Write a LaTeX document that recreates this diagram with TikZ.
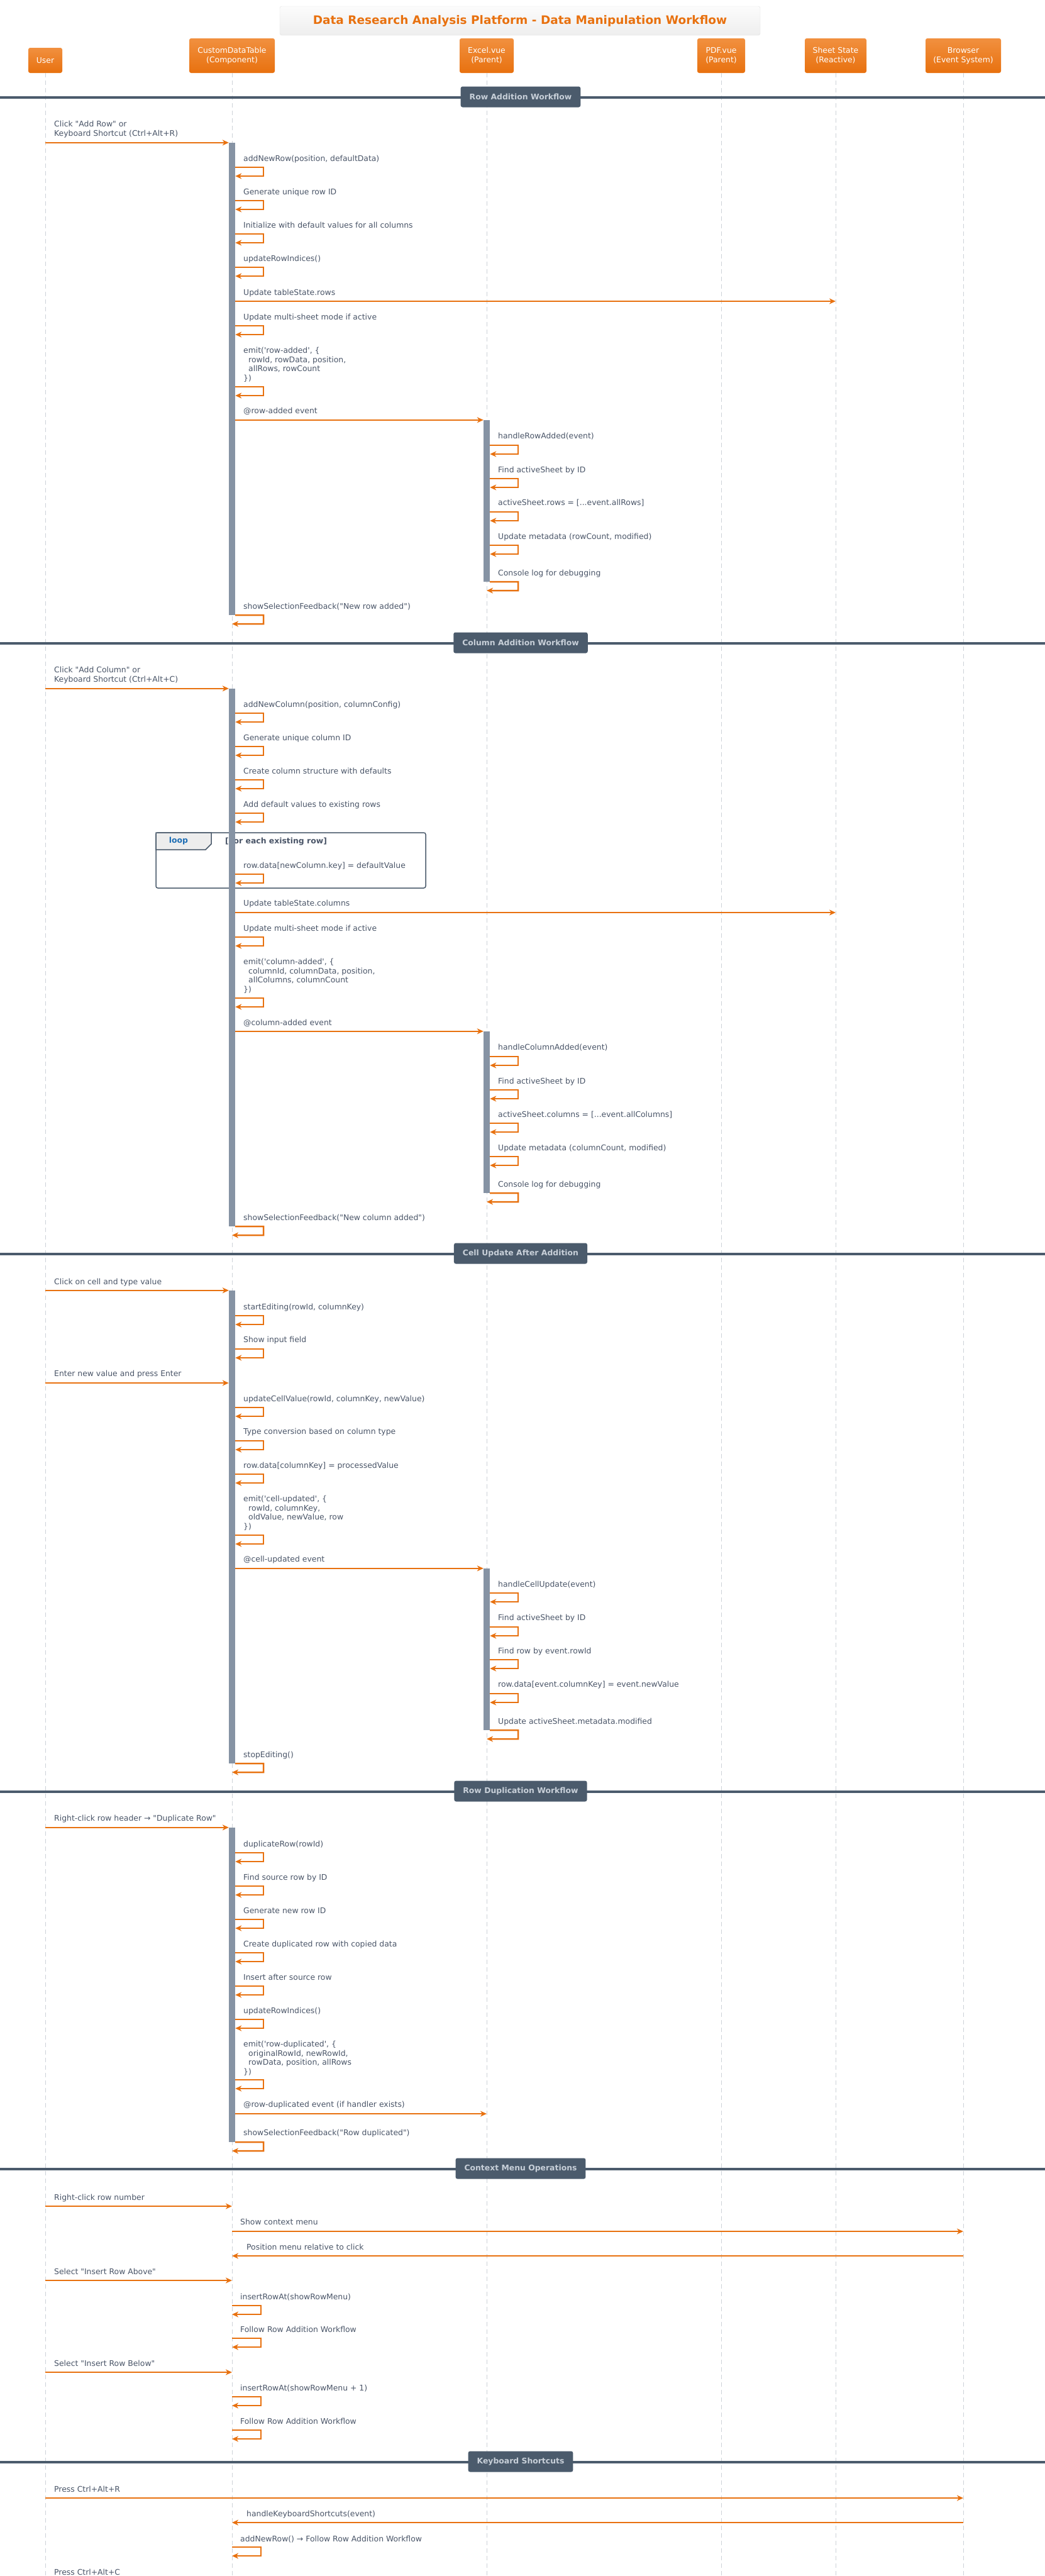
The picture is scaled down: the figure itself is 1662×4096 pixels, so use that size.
\documentclass[tikz,border=0pt]{standalone}
\usepackage{fontspec}
\newfontfamily\dejavu{DejaVu Sans}
\usepackage{tikz}
\usetikzlibrary{arrows.meta}

\definecolor{accent}{HTML}{E8710F}
\definecolor{accenttop}{HTML}{F1903F}
\definecolor{ink}{HTML}{4A5568}
\definecolor{slate}{HTML}{4B5B6C}
\definecolor{pale}{HTML}{C8D0D9}
\definecolor{barfill}{HTML}{8693A4}
\definecolor{life}{HTML}{CDD2D8}
\definecolor{loopblue}{HTML}{1C6DB4}
\definecolor{tabgray}{HTML}{EDEDED}
\definecolor{titletop}{HTML}{FCFCFC}
\definecolor{titlebottom}{HTML}{EEEEEE}
\definecolor{titleline}{HTML}{E2E2E2}

\begin{document}
\begin{tikzpicture}[x=1pt,y=-1pt,>={Stealth[length=10pt,width=9pt,inset=3pt]},
    every node/.style={font=\dejavu\fontsize{12.4}{14.6}\selectfont},
    heading/.style={rounded corners=3pt,draw=titleline,top color=titletop,bottom color=titlebottom,
      minimum width=764pt,minimum height=46pt,text=accent,font=\dejavu\bfseries\fontsize{18.5}{22}\selectfont},
    actor/.style={rounded corners=3pt,top color=accenttop,bottom color=accent,text=white,align=center,
      minimum height=55pt,inner sep=0pt,font=\dejavu\fontsize{12.4}{15}\selectfont},
    lifeline/.style={draw=life,line width=1pt,dash pattern=on 7pt off 5pt},
    divider/.style={draw=slate,line width=4pt},
    divlabel/.style={fill=slate,text=pale,rounded corners=3pt,minimum height=33pt,inner xsep=14pt,
      font=\dejavu\bfseries\fontsize{12.4}{14.6}\selectfont},
    activation/.style={fill=barfill,minimum width=10pt,inner sep=0pt},
    msg/.style={anchor=base west,inner sep=0pt,text=ink,align=left},
    call/.style={->,draw=accent,line width=2.5pt},
    loopframe/.style={draw=slate,line width=1.5pt,rounded corners=3pt},
    looptab/.style={draw=slate,line width=1.5pt,fill=tabgray}]
  \useasboundingbox (0,0) rectangle (1662,4096);
  \fill[white] (0,0) rectangle (1662,4096);

  % title and participants
  \node[heading] (title) at (827,33) {Data Research Analysis Platform - Data Manipulation Workflow};
  \node[actor,minimum width=54pt,minimum height=40pt] (U) at (72,96) {User};
  \node[actor,minimum width=136pt] (T) at (369,88.5) {CustomDataTable\\(Component)};
  \node[actor,minimum width=86pt]  (E) at (774,88.5) {Excel.vue\\(Parent)};
  \node[actor,minimum width=76pt]  (P) at (1147,88.5) {PDF.vue\\(Parent)};
  \node[actor,minimum width=98pt]  (S) at (1329,88.5) {Sheet State\\(Reactive)};
  \node[actor,minimum width=120pt] (B) at (1532,88.5) {Browser\\(Event System)};

  \draw[lifeline] (U.south) -- (U |- 0,4096);
  \draw[lifeline] (T.south) -- (T |- 0,4096);
  \draw[lifeline] (E.south) -- (E |- 0,4096);
  \draw[lifeline] (P.south) -- (P |- 0,4096);
  \draw[lifeline] (S.south) -- (S |- 0,4096);
  \draw[lifeline] (B.south) -- (B |- 0,4096);

  % section dividers
  \draw[divider] (0,155) -- (1662,155);
  \draw[divider] (0,1023) -- (1662,1023);
  \draw[divider] (0,1994) -- (1662,1994);
  \draw[divider] (0,2849) -- (1662,2849);
  \draw[divider] (0,3449) -- (1662,3449);
  \draw[divider] (0,3915) -- (1662,3915);
  \node[divlabel] (h1) at (828,154) {Row Addition Workflow};
  \node[divlabel] (h2) at (828,1022) {Column Addition Workflow};
  \node[divlabel] (h3) at (828,1993) {Cell Update After Addition};
  \node[divlabel] (h4) at (828,2848) {Row Duplication Workflow};
  \node[divlabel] (h5) at (828,3448) {Context Menu Operations};
  \node[divlabel] (h6) at (828,3914) {Keyboard Shortcuts};

  % loop frame
  \draw[loopframe] (248,1324) rectangle (677,1412);
  \draw[looptab] (248,1324) -- (336,1324) -- (336,1342) -- (327,1351) -- (248,1351) -- cycle;
  \node[text=loopblue,font=\dejavu\bfseries\fontsize{12.4}{14.6}\selectfont] (lp) at (284,1337) {loop};
  \node[text=ink,font=\dejavu\bfseries\fontsize{12.4}{14.6}\selectfont] (lpc) at (439,1338) {[For each existing row]};

  % activation bars
  \node[activation,minimum height=751pt] (T1) at (369,602.5) {};
  \node[activation,minimum height=257pt] (E1) at (774,796.5) {};
  \node[activation,minimum height=855pt] (T2) at (369,1522.5) {};
  \node[activation,minimum height=257pt] (E2) at (774,1768.5) {};
  \node[activation,minimum height=752pt] (T3) at (369,2428) {};
  \node[activation,minimum height=257pt] (E3) at (774,2622.5) {};
  \node[activation,minimum height=500pt] (T4) at (369,3156) {};

  % row addition
  \node[msg] (r1) at (86,216.5) {Click "Add Row" or\\Keyboard Shortcut (Ctrl+Alt+R)};
  \draw[call] (U |- T1.north) -- (T1.north west);
  \node[msg] (r2) at (387,256.5) {addNewRow(position, defaultData)};
  \draw[call] (T1.east |- 0,266) -| ++(45,14) -- (T1.east |- 0,280);
  \node[msg] (r3) at (387,309.5) {Generate unique row ID};
  \draw[call] (T1.east |- 0,319) -| ++(45,14) -- (T1.east |- 0,333);
  \node[msg] (r4) at (387,362.5) {Initialize with default values for all columns};
  \draw[call] (T1.east |- 0,372) -| ++(45,14) -- (T1.east |- 0,386);
  \node[msg] (r5) at (387,415.5) {updateRowIndices()};
  \draw[call] (T1.east |- 0,425) -| ++(45,14) -- (T1.east |- 0,439);
  \node[msg] (r6) at (387,469.5) {Update tableState.rows};
  \draw[call] (T1.east |- 0,479) -- (S |- 0,479);
  \node[msg] (r7) at (387,508.5) {Update multi-sheet mode if active};
  \draw[call] (T1.east |- 0,518) -| ++(45,14) -- (T1.east |- 0,532);
  \node[msg] (r8) at (387,605.5) {emit('row-added', \{\\\hspace*{8pt}rowId, rowData, position,\\\hspace*{8pt}allRows, rowCount\\\})};
  \draw[call] (T1.east |- 0,615) -| ++(45,14) -- (T1.east |- 0,629);
  \node[msg] (r9) at (387,657.5) {@row-added event};
  \draw[call] (T1.east |- E1.north) -- (E1.north west);
  \node[msg] (r10) at (792,697.5) {handleRowAdded(event)};
  \draw[call] (E1.east |- 0,708) -| ++(45,14) -- (E1.east |- 0,722);
  \node[msg] (r11) at (792,751.5) {Find activeSheet by ID};
  \draw[call] (E1.east |- 0,761) -| ++(45,14) -- (E1.east |- 0,775);
  \node[msg] (r12) at (792,803.5) {activeSheet.rows = [...event.allRows]};
  \draw[call] (E1.east |- 0,814) -| ++(45,14) -- (E1.east |- 0,828);
  \node[msg] (r13) at (792,857.5) {Update metadata (rowCount, modified)};
  \draw[call] (E1.east |- 0,867) -| ++(45,14) -- (E1.east |- 0,881);
  \node[msg] (r14) at (792,915.5) {Console log for debugging};
  \draw[call] (E1.south east) -| ++(45,14) -- (E |- 0,939);
  \node[msg] (r15) at (387,968.5) {showSelectionFeedback("New row added")};
  \draw[call] (T1.south east) -| ++(45,14) -- (T |- 0,992);

  % column addition
  \node[msg] (c1) at (86,1084.5) {Click "Add Column" or\\Keyboard Shortcut (Ctrl+Alt+C)};
  \draw[call] (U |- T2.north) -- (T2.north west);
  \node[msg] (c2) at (387,1124.5) {addNewColumn(position, columnConfig)};
  \draw[call] (T2.east |- 0,1134) -| ++(45,14) -- (T2.east |- 0,1148);
  \node[msg] (c3) at (387,1177.5) {Generate unique column ID};
  \draw[call] (T2.east |- 0,1187) -| ++(45,14) -- (T2.east |- 0,1201);
  \node[msg] (c4) at (387,1230.5) {Create column structure with defaults};
  \draw[call] (T2.east |- 0,1240) -| ++(45,14) -- (T2.east |- 0,1254);
  \node[msg] (c5) at (387,1283.5) {Add default values to existing rows};
  \draw[call] (T2.east |- 0,1293) -| ++(45,14) -- (T2.east |- 0,1307);
  \node[msg] (c6) at (387,1380.5) {row.data[newColumn.key] = defaultValue};
  \draw[call] (T2.east |- 0,1390) -| ++(45,14) -- (T2.east |- 0,1404);
  \node[msg] (c7) at (387,1440.5) {Update tableState.columns};
  \draw[call] (T2.east |- 0,1451) -- (S |- 0,1451);
  \node[msg] (c8) at (387,1480.5) {Update multi-sheet mode if active};
  \draw[call] (T2.east |- 0,1490) -| ++(45,14) -- (T2.east |- 0,1504);
  \node[msg] (c9) at (387,1577.5) {emit('column-added', \{\\\hspace*{8pt}columnId, columnData, position,\\\hspace*{8pt}allColumns, columnCount\\\})};
  \draw[call] (T2.east |- 0,1587) -| ++(45,14) -- (T2.east |- 0,1601);
  \node[msg] (c10) at (387,1630.5) {@column-added event};
  \draw[call] (T2.east |- E2.north) -- (E2.north west);
  \node[msg] (c11) at (792,1669.5) {handleColumnAdded(event)};
  \draw[call] (E2.east |- 0,1680) -| ++(45,14) -- (E2.east |- 0,1694);
  \node[msg] (c12) at (792,1723.5) {Find activeSheet by ID};
  \draw[call] (E2.east |- 0,1733) -| ++(45,14) -- (E2.east |- 0,1747);
  \node[msg] (c13) at (792,1776.5) {activeSheet.columns = [...event.allColumns]};
  \draw[call] (E2.east |- 0,1786) -| ++(45,14) -- (E2.east |- 0,1800);
  \node[msg] (c14) at (792,1829.5) {Update metadata (columnCount, modified)};
  \draw[call] (E2.east |- 0,1839) -| ++(45,14) -- (E2.east |- 0,1853);
  \node[msg] (c15) at (792,1887.5) {Console log for debugging};
  \draw[call] (E2.south east) -| ++(45,14) -- (E |- 0,1911);
  \node[msg] (c16) at (387,1940.5) {showSelectionFeedback("New column added")};
  \draw[call] (T2.south east) -| ++(45,14) -- (T |- 0,1964);

  % cell update
  \node[msg] (u1) at (86,2042.5) {Click on cell and type value};
  \draw[call] (U |- T3.north) -- (T3.north west);
  \node[msg] (u2) at (387,2082.5) {startEditing(rowId, columnKey)};
  \draw[call] (T3.east |- 0,2092) -| ++(45,14) -- (T3.east |- 0,2106);
  \node[msg] (u3) at (387,2134.5) {Show input field};
  \draw[call] (T3.east |- 0,2145) -| ++(45,14) -- (T3.east |- 0,2159);
  \node[msg] (u4) at (86,2188.5) {Enter new value and press Enter};
  \draw[call] (U |- 0,2199) -- (T3.west |- 0,2199);
  \node[msg] (u5) at (387,2228.5) {updateCellValue(rowId, columnKey, newValue)};
  \draw[call] (T3.east |- 0,2238) -| ++(45,14) -- (T3.east |- 0,2252);
  \node[msg] (u6) at (387,2280.5) {Type conversion based on column type};
  \draw[call] (T3.east |- 0,2291) -| ++(45,14) -- (T3.east |- 0,2305);
  \node[msg] (u7) at (387,2334.5) {row.data[columnKey] = processedValue};
  \draw[call] (T3.east |- 0,2344) -| ++(45,14) -- (T3.east |- 0,2358);
  \node[msg] (u8) at (387,2431.5) {emit('cell-updated', \{\\\hspace*{8pt}rowId, columnKey,\\\hspace*{8pt}oldValue, newValue, row\\\})};
  \draw[call] (T3.east |- 0,2441) -| ++(45,14) -- (T3.east |- 0,2455);
  \node[msg] (u9) at (387,2483.5) {@cell-updated event};
  \draw[call] (T3.east |- E3.north) -- (E3.north west);
  \node[msg] (u10) at (792,2523.5) {handleCellUpdate(event)};
  \draw[call] (E3.east |- 0,2533) -| ++(45,14) -- (E3.east |- 0,2547);
  \node[msg] (u11) at (792,2576.5) {Find activeSheet by ID};
  \draw[call] (E3.east |- 0,2587) -| ++(45,14) -- (E3.east |- 0,2601);
  \node[msg] (u12) at (792,2629.5) {Find row by event.rowId};
  \draw[call] (E3.east |- 0,2639) -| ++(45,14) -- (E3.east |- 0,2653);
  \node[msg] (u13) at (792,2682.5) {row.data[event.columnKey] = event.newValue};
  \draw[call] (E3.east |- 0,2693) -| ++(45,14) -- (E3.east |- 0,2707);
  \node[msg] (u14) at (792,2741.5) {Update activeSheet.metadata.modified};
  \draw[call] (E3.south east) -| ++(45,14) -- (E |- 0,2765);
  \node[msg] (u15) at (387,2794.5) {stopEditing()};
  \draw[call] (T3.south east) -| ++(45,14) -- (T |- 0,2818);

  % row duplication
  \node[msg] (d1) at (86,2895.5) {Right-click row header → "Duplicate Row"};
  \draw[call] (U |- T4.north) -- (T4.north west);
  \node[msg] (d2) at (387,2936.5) {duplicateRow(rowId)};
  \draw[call] (T4.east |- 0,2946) -| ++(45,14) -- (T4.east |- 0,2960);
  \node[msg] (d3) at (387,2989.5) {Find source row by ID};
  \draw[call] (T4.east |- 0,2999) -| ++(45,14) -- (T4.east |- 0,3013);
  \node[msg] (d4) at (387,3042.5) {Generate new row ID};
  \draw[call] (T4.east |- 0,3052) -| ++(45,14) -- (T4.east |- 0,3066);
  \node[msg] (d5) at (387,3095.5) {Create duplicated row with copied data};
  \draw[call] (T4.east |- 0,3105) -| ++(45,14) -- (T4.east |- 0,3119);
  \node[msg] (d6) at (387,3148.5) {Insert after source row};
  \draw[call] (T4.east |- 0,3158) -| ++(45,14) -- (T4.east |- 0,3172);
  \node[msg] (d7) at (387,3201.5) {updateRowIndices()};
  \draw[call] (T4.east |- 0,3211) -| ++(45,14) -- (T4.east |- 0,3225);
  \node[msg] (d8) at (387,3298.5) {emit('row-duplicated', \{\\\hspace*{8pt}originalRowId, newRowId,\\\hspace*{8pt}rowData, position, allRows\\\})};
  \draw[call] (T4.east |- 0,3307) -| ++(45,14) -- (T4.east |- 0,3321);
  \node[msg] (d9) at (387,3350.5) {@row-duplicated event (if handler exists)};
  \draw[call] (T4.east |- 0,3361) -- (E |- 0,3361);
  \node[msg] (d10) at (387,3395.5) {showSelectionFeedback("Row duplicated")};
  \draw[call] (T4.south east) -| ++(45,14) -- (T |- 0,3420);

  % context menu
  \node[msg] (m1) at (86,3498.5) {Right-click row number};
  \draw[call] (U |- 0,3508) -- (T |- 0,3508);
  \node[msg] (m2) at (382,3537.5) {Show context menu};
  \draw[call] (T |- 0,3548) -- (B |- 0,3548);
  \node[msg] (m3) at (392,3577.5) {Position menu relative to click};
  \draw[call] (B |- 0,3587) -- (T |- 0,3587);
  \node[msg] (m4) at (86,3616.5) {Select "Insert Row Above"};
  \draw[call] (U |- 0,3626) -- (T |- 0,3626);
  \node[msg] (m5) at (382,3656.5) {insertRowAt(showRowMenu)};
  \draw[call] (T |- 0,3666) -| ++(46,14) -- (T |- 0,3680);
  \node[msg] (m6) at (382,3708.5) {Follow Row Addition Workflow};
  \draw[call] (T |- 0,3718) -| ++(46,14) -- (T |- 0,3732);
  \node[msg] (m7) at (86,3762.5) {Select "Insert Row Below"};
  \draw[call] (U |- 0,3772) -- (T |- 0,3772);
  \node[msg] (m8) at (382,3801.5) {insertRowAt(showRowMenu + 1)};
  \draw[call] (T |- 0,3811) -| ++(46,14) -- (T |- 0,3825);
  \node[msg] (m9) at (382,3854.5) {Follow Row Addition Workflow};
  \draw[call] (T |- 0,3864) -| ++(46,14) -- (T |- 0,3878);

  % keyboard shortcuts
  \node[msg] (k1) at (86,3962.5) {Press Ctrl+Alt+R};
  \draw[call] (U |- 0,3972) -- (B |- 0,3972);
  \node[msg] (k2) at (392,4001.5) {handleKeyboardShortcuts(event)};
  \draw[call] (B |- 0,4011) -- (T |- 0,4011);
  \node[msg] (k3) at (382,4041.5) {addNewRow() → Follow Row Addition Workflow};
  \draw[call] (T |- 0,4050) -| ++(46,14) -- (T |- 0,4064);
  \node[msg] (k4) at (86,4094.5) {Press Ctrl+Alt+C};
\end{tikzpicture}
\end{document}
